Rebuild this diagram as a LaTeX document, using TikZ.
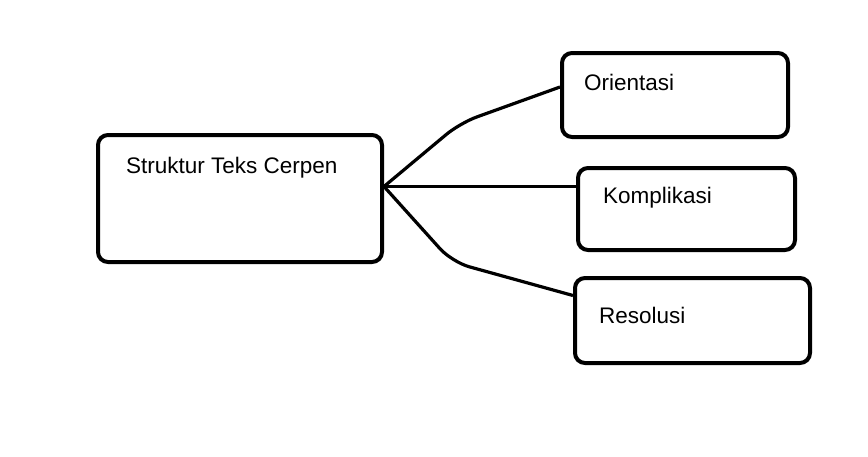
\documentclass[tikz,border=0pt]{standalone}
\usepackage{fontspec}
\setmainfont{Liberation Sans}
\usetikzlibrary{positioning,calc}

\begin{document}
\begin{tikzpicture}[x=1pt,y=-1pt]
            \tikzstyle{kotak}=[rectangle, draw, line width=4pt, rounded corners=10pt, inner sep=0pt]
            \tikzstyle{garis}=[line width=3.2pt, rounded corners=18pt]
            \tikzstyle{teks}=[anchor=west, inner sep=0pt, font=\fontsize{22.5}{25}\selectfont]

            \useasboundingbox (0,0) rectangle (868,456);

            \node[kotak, minimum width=284pt, minimum height=127pt] (cerpen) at (240,198.5) {};
            \node[kotak, minimum width=226pt, minimum height=84pt]  (orientasi) at (675,95) {};
            \node[kotak, minimum width=217pt, minimum height=82pt]  (komplikasi) at (686.5,209) {};
            \node[kotak, minimum width=235pt, minimum height=85pt]  (resolusi) at (692.5,320.5) {};

            \node[teks] (tcerpen) at (126,168) {Struktur Teks Cerpen};
            \node[teks] (torientasi) at (584,82) {Orientasi};
            \node[teks] (tkomplikasi) at (603,198) {Komplikasi};
            \node[teks] (tresolusi) at (599,315) {Resolusi};

            \coordinate (hub) at ($(cerpen.east)+(0,-12)$);
            \coordinate (ujung1) at ($(orientasi.west)+(0,-8)$);
            \coordinate (ujung3) at ($(resolusi.west)+(0,-25)$);

            \draw[garis] (hub) -- (460,123) -- (ujung1);
            \draw[line width=2.8pt] (hub) -- (hub -| komplikasi.west);
            \draw[garis] (hub) -- (452,262) -- (ujung3);
        \end{tikzpicture}
\end{document}
